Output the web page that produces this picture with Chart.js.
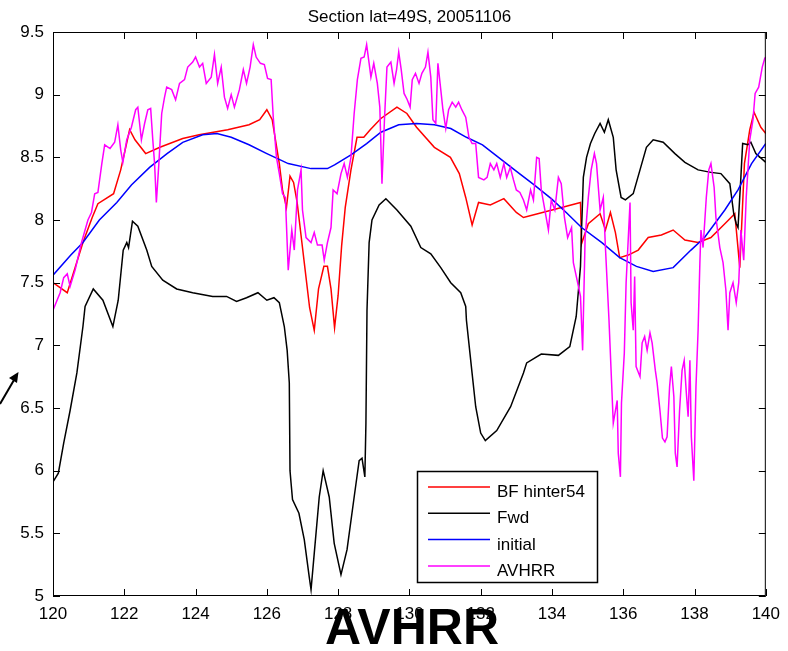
<!DOCTYPE html>
<html>
<head>
<meta charset="utf-8">
<title>Section lat=49S, 20051106</title>
<script src="https://cdn.jsdelivr.net/npm/chart.js@4.4.1/dist/chart.umd.min.js"></script>
<style>
  html, body { margin: 0; padding: 0; background: #fff; }
  canvas { display: block; }
</style>
</head>
<body>
<canvas id="sectionChart" width="788" height="651"></canvas>
<script>
// axis ticks
const xTicks = [120, 122, 124, 126, 128, 130, 132, 134, 136, 138, 140];
const yTicks = [5, 5.5, 6, 6.5, 7, 7.5, 8, 8.5, 9, 9.5];
const yTickLabels = ['5', '5.5', '6', '6.5', '7', '7.5', '8', '8.5', '9', '9.5'];

const seriesNames = ['BF hinter54', 'Fwd', 'initial', 'AVHRR'];

// BF hinter54 (red)
const bfX = [120, 120.4, 120.84, 121.1, 121.26, 121.7, 121.9, 122.15, 122.3, 122.6, 123.0, 123.64, 124.1, 124.9, 125.5, 125.8, 126.0, 126.15, 126.35, 126.44, 126.55, 126.65, 126.75, 126.85, 126.95, 127.05, 127.2, 127.33, 127.45, 127.6, 127.7, 127.8, 127.9, 128.0, 128.1, 128.2, 128.36, 128.53, 128.72, 128.9, 129.2, 129.65, 129.93, 130.2, 130.7, 131.15, 131.4, 131.58, 131.76, 131.94, 132.27, 132.65, 133.0, 133.2, 133.6, 134.27, 134.8, 134.83, 135.02, 135.35, 135.5, 135.64, 135.78, 135.9, 136.14, 136.42, 136.7, 137.07, 137.4, 137.73, 138.1, 138.46, 138.85, 139.13, 139.27, 139.4, 139.55, 139.67, 139.86, 140];
const bfY = [7.5, 7.42, 7.82, 8.02, 8.13, 8.21, 8.4, 8.72, 8.64, 8.53, 8.58, 8.65, 8.68, 8.72, 8.76, 8.8, 8.88, 8.8, 8.45, 8.24, 8.1, 8.35, 8.3, 8.14, 7.9, 7.66, 7.3, 7.12, 7.45, 7.63, 7.63, 7.45, 7.14, 7.4, 7.8, 8.1, 8.4, 8.66, 8.66, 8.72, 8.81, 8.9, 8.85, 8.74, 8.58, 8.5, 8.37, 8.18, 7.96, 8.14, 8.12, 8.17, 8.06, 8.02, 8.05, 8.1, 8.14, 7.81, 7.97, 8.05, 7.92, 8.06, 7.9, 7.7, 7.72, 7.76, 7.86, 7.88, 7.92, 7.84, 7.82, 7.86, 7.97, 8.05, 7.62, 8.45, 8.72, 8.86, 8.74, 8.69];

// Fwd (black)
const fwdX = [120, 120.15, 120.3, 120.48, 120.67, 120.84, 120.9, 121.13, 121.4, 121.68, 121.83, 121.97, 122.07, 122.12, 122.23, 122.38, 122.63, 122.77, 123.08, 123.47, 123.92, 124.48, 124.87, 125.15, 125.43, 125.75, 126.0, 126.2, 126.35, 126.49, 126.57, 126.63, 126.65, 126.68, 126.72, 126.9, 127.05, 127.19, 127.24, 127.33, 127.47, 127.58, 127.75, 127.89, 128.08, 128.25, 128.45, 128.59, 128.67, 128.75, 128.78, 128.81, 128.87, 128.95, 129.15, 129.34, 129.65, 130.04, 130.32, 130.6, 130.88, 131.16, 131.44, 131.58, 131.6, 131.75, 131.86, 132.0, 132.13, 132.45, 132.84, 133.2, 133.29, 133.7, 134.18, 134.5, 134.68, 134.8, 134.83, 134.88, 134.97, 135.08, 135.2, 135.35, 135.47, 135.58, 135.72, 135.8, 135.94, 136.06, 136.28, 136.47, 136.65, 136.84, 137.12, 137.45, 137.73, 138.1, 138.46, 138.74, 138.99, 139.1, 139.17, 139.22, 139.3, 139.35, 139.5, 139.58, 139.72, 140];
const fwdY = [5.91, 5.98, 6.22, 6.48, 6.78, 7.15, 7.31, 7.45, 7.36, 7.15, 7.36, 7.76, 7.82, 7.78, 7.99, 7.95, 7.76, 7.63, 7.52, 7.45, 7.42, 7.39, 7.39, 7.35, 7.38, 7.42, 7.36, 7.38, 7.34, 7.15, 6.96, 6.7, 6.0, 5.9, 5.77, 5.66, 5.45, 5.15, 5.05, 5.34, 5.79, 6.0, 5.79, 5.42, 5.17, 5.37, 5.79, 6.08, 6.1, 5.95, 6.38, 7.28, 7.82, 8.0, 8.12, 8.17, 8.08, 7.95, 7.78, 7.73, 7.62, 7.5, 7.42, 7.31, 7.2, 6.8, 6.51, 6.3, 6.24, 6.32, 6.51, 6.78, 6.86, 6.93, 6.92, 6.99, 7.23, 7.63, 7.92, 8.34, 8.5, 8.61, 8.69, 8.77, 8.7, 8.8, 8.66, 8.4, 8.18, 8.16, 8.21, 8.4, 8.58, 8.64, 8.62, 8.53, 8.46, 8.4, 8.38, 8.37, 8.29, 8.05, 7.97, 7.94, 8.34, 8.61, 8.6, 8.62, 8.53, 8.46];

// initial (blue)
const initX = [120, 120.5, 120.84, 121.3, 121.79, 122.2, 122.71, 123.2, 123.64, 124.2, 124.6, 125.0, 125.5, 126.0, 126.6, 127.24, 127.7, 127.9, 128.36, 128.8, 129.2, 129.7, 130.2, 130.7, 131.16, 131.6, 132.05, 132.5, 132.95, 133.5, 133.98, 134.4, 134.83, 135.4, 135.9, 136.37, 136.84, 137.4, 137.9, 138.28, 138.85, 139.22, 139.6, 140];
const initY = [7.56, 7.72, 7.82, 8.0, 8.14, 8.28, 8.42, 8.53, 8.62, 8.68, 8.69, 8.66, 8.6, 8.53, 8.45, 8.41, 8.41, 8.44, 8.52, 8.61, 8.7, 8.76, 8.77, 8.76, 8.73, 8.66, 8.6, 8.5, 8.4, 8.28, 8.17, 8.06, 7.94, 7.82, 7.7, 7.63, 7.59, 7.62, 7.76, 7.86, 8.08, 8.24, 8.45, 8.61];

// AVHRR (magenta)
const avX = [120.0, 120.2, 120.3, 120.4, 120.48, 120.62, 120.8, 120.98, 121.08, 121.17, 121.26, 121.37, 121.45, 121.6, 121.73, 121.82, 121.9, 121.96, 122.07, 122.2, 122.32, 122.38, 122.48, 122.57, 122.66, 122.74, 122.8, 122.85, 122.9, 122.97, 123.05, 123.13, 123.19, 123.33, 123.44, 123.55, 123.69, 123.78, 123.92, 124.0, 124.11, 124.2, 124.3, 124.44, 124.53, 124.62, 124.72, 124.81, 124.9, 125.0, 125.09, 125.23, 125.34, 125.43, 125.53, 125.62, 125.7, 125.82, 125.93, 126.02, 126.12, 126.18, 126.27, 126.35, 126.44, 126.52, 126.6, 126.7, 126.77, 126.86, 126.96, 127.0, 127.1, 127.24, 127.33, 127.42, 127.55, 127.61, 127.7, 127.8, 127.86, 127.97, 128.08, 128.17, 128.26, 128.36, 128.45, 128.54, 128.64, 128.73, 128.8, 128.87, 128.92, 129.0, 129.1, 129.17, 129.23, 129.3, 129.37, 129.48, 129.57, 129.64, 129.7, 129.77, 129.85, 129.94, 130.02, 130.08, 130.17, 130.27, 130.35, 130.45, 130.52, 130.6, 130.66, 130.74, 130.8, 130.88, 130.94, 131.02, 131.1, 131.2, 131.3, 131.38, 131.47, 131.58, 131.67, 131.76, 131.86, 131.94, 132.09, 132.18, 132.27, 132.37, 132.45, 132.55, 132.65, 132.73, 132.83, 132.92, 133.0, 133.1, 133.2, 133.29, 133.4, 133.48, 133.57, 133.64, 133.7, 133.8, 133.9, 133.98, 134.08, 134.18, 134.26, 134.35, 134.44, 134.55, 134.6, 134.69, 134.8, 134.86, 134.93, 135.02, 135.1, 135.19, 135.25, 135.35, 135.44, 135.5, 135.6, 135.72, 135.78, 135.83, 135.86, 135.92, 135.95, 136.03, 136.08, 136.19, 136.22, 136.28, 136.32, 136.36, 136.47, 136.53, 136.6, 136.67, 136.75, 136.81, 136.9, 136.95, 137.03, 137.1, 137.17, 137.23, 137.3, 137.35, 137.42, 137.46, 137.51, 137.58, 137.65, 137.71, 137.77, 137.82, 137.87, 137.91, 137.98, 138.04, 138.1, 138.15, 138.18, 138.24, 138.33, 138.4, 138.46, 138.55, 138.6, 138.71, 138.8, 138.88, 138.94, 138.99, 139.08, 139.17, 139.24, 139.3, 139.38, 139.45, 139.55, 139.64, 139.7, 139.8, 139.9, 139.97, 140];
const avY = [7.28, 7.42, 7.54, 7.57, 7.47, 7.6, 7.82, 8.0, 8.06, 8.21, 8.22, 8.45, 8.6, 8.57, 8.62, 8.76, 8.56, 8.46, 8.64, 8.74, 8.88, 8.9, 8.64, 8.77, 8.88, 8.89, 8.64, 8.45, 8.14, 8.45, 8.85, 8.98, 9.06, 9.04, 8.96, 9.09, 9.12, 9.22, 9.26, 9.3, 9.22, 9.25, 9.09, 9.14, 9.32, 9.09, 9.22, 8.98, 8.89, 9.0, 8.9, 9.04, 9.2, 9.09, 9.22, 9.4, 9.3, 9.25, 9.24, 9.13, 9.12, 8.82, 8.5, 8.37, 8.21, 8.18, 7.6, 7.92, 7.76, 8.24, 8.4, 8.08, 7.86, 7.82, 7.9, 7.8, 7.8, 7.68, 7.82, 7.94, 8.24, 8.21, 8.37, 8.45, 8.34, 8.5, 8.85, 9.12, 9.29, 9.3, 9.4, 9.25, 9.14, 9.25, 9.09, 8.9, 8.29, 8.8, 9.22, 9.26, 9.09, 9.2, 9.34, 9.2, 9.01, 8.96, 8.9, 9.12, 9.17, 9.09, 9.17, 9.22, 9.34, 9.14, 8.8, 8.77, 9.25, 9.04, 8.88, 8.73, 8.88, 8.94, 8.9, 8.94, 8.88, 8.82, 8.66, 8.61, 8.61, 8.34, 8.32, 8.34, 8.45, 8.4, 8.45, 8.34, 8.45, 8.34, 8.42, 8.32, 8.24, 8.22, 8.16, 8.08, 8.24, 8.16, 8.5, 8.49, 8.24, 8.08, 7.92, 8.16, 8.08, 8.34, 8.29, 8.02, 7.86, 7.94, 7.66, 7.54, 7.39, 6.96, 7.86, 8.18, 8.4, 8.53, 8.45, 8.08, 8.18, 7.78, 7.2, 6.38, 6.48, 6.56, 6.14, 5.95, 6.54, 6.94, 7.5, 8.14, 7.34, 7.12, 7.55, 6.83, 6.75, 7.02, 7.07, 6.96, 7.1, 7.02, 6.8, 6.7, 6.48, 6.26, 6.23, 6.27, 6.67, 6.83, 6.59, 6.14, 6.03, 6.48, 6.8, 6.88, 6.62, 6.43, 6.88, 6.27, 5.92, 6.67, 7.12, 7.66, 7.92, 7.78, 8.18, 8.4, 8.45, 8.26, 8.02, 7.78, 7.66, 7.44, 7.12, 7.42, 7.5, 7.34, 7.5, 7.92, 7.68, 8.18, 8.64, 8.8, 9.01, 9.06, 9.22, 9.29, 9.3];

const seriesColors = ['#ff0000', '#000000', '#0000ff', '#ff00ff'];

function toPoints(xs, ys) {
    return xs.map((x, i) => ({ x: x, y: ys[i] }));
}

const FONT = '"Liberation Sans", Arial, Helvetica, sans-serif';

// MATLAB style box, inward ticks, title, legend and the extra annotations
const matlabFrame = {
    id: 'matlabFrame',
    afterDraw(chart) {
        const ctx = chart.ctx;
        const area = chart.chartArea;
        const xs = chart.scales.x;
        const ys = chart.scales.y;
        const tick = 7;

        ctx.save();
        ctx.strokeStyle = '#000';
        ctx.lineWidth = 1;
        ctx.strokeRect(area.left + 0.5, area.top + 0.5, area.right - area.left - 1, area.bottom - area.top - 1);

        ctx.beginPath();
        xTicks.forEach(v => {
            const px = Math.round(xs.getPixelForValue(v)) + 0.5;
            ctx.moveTo(px, area.bottom); ctx.lineTo(px, area.bottom - tick);
            ctx.moveTo(px, area.top); ctx.lineTo(px, area.top + tick);
        });
        yTicks.forEach(v => {
            const py = Math.round(ys.getPixelForValue(v)) + 0.5;
            ctx.moveTo(area.left, py); ctx.lineTo(area.left + tick, py);
            ctx.moveTo(area.right, py); ctx.lineTo(area.right - tick, py);
        });
        ctx.stroke();

        // title
        ctx.fillStyle = '#000';
        ctx.font = '17px ' + FONT;
        ctx.textAlign = 'center';
        ctx.textBaseline = 'alphabetic';
        ctx.fillText('Section lat=49S, 20051106', (area.left + area.right) / 2, 22);

        // legend box
        const lx = 417, ly = 471, lw = 180, lh = 111;
        ctx.fillStyle = '#fff';
        ctx.fillRect(lx, ly, lw, lh);
        ctx.strokeStyle = '#000';
        ctx.lineWidth = 1.5;
        ctx.strokeRect(lx + 0.5, ly + 0.5, lw, lh);
        ctx.textAlign = 'left';
        chart.data.datasets.forEach((ds, i) => {
            const base = 497 + i * 26.3;
            ctx.strokeStyle = ds.borderColor;
            ctx.lineWidth = 1.5;
            ctx.beginPath();
            ctx.moveTo(428, base - 10);
            ctx.lineTo(490, base - 10);
            ctx.stroke();
            ctx.fillStyle = '#000';
            ctx.fillText(ds.label, 497, base);
        });

        // arrow on the left edge
        ctx.strokeStyle = '#000';
        ctx.fillStyle = '#000';
        ctx.lineWidth = 2;
        ctx.beginPath();
        ctx.moveTo(0, 404);
        ctx.lineTo(14, 380);
        ctx.stroke();
        ctx.beginPath();
        ctx.moveTo(18.5, 372);
        ctx.lineTo(9, 378);
        ctx.lineTo(17, 383);
        ctx.closePath();
        ctx.fill();

        // big caption over the x axis
        ctx.font = 'bold 50px ' + FONT;
        ctx.textAlign = 'center';
        ctx.fillText('AVHRR', 412, 644);
        ctx.restore();
    }
};

document.addEventListener('DOMContentLoaded', function () {
    const allX = [bfX, fwdX, initX, avX];
    const allY = [bfY, fwdY, initY, avY];

    const datasets = seriesNames.map((name, i) => ({
        label: name,
        data: toPoints(allX[i], allY[i]),
        borderColor: seriesColors[i],
        backgroundColor: seriesColors[i],
        borderWidth: 1.5,
        pointRadius: 0,
        tension: 0,
        fill: false,
        // later series drawn on top, as in the original plot
        order: seriesNames.length - i
    }));

    new Chart(document.getElementById('sectionChart'), {
        type: 'line',
        data: { datasets: datasets },
        options: {
            responsive: false,
            animation: false,
            devicePixelRatio: 1,
            layout: { padding: { top: 32, right: 20, left: 0, bottom: 0 } },
            scales: {
                x: {
                    type: 'linear',
                    min: 120,
                    max: 140,
                    afterBuildTicks: s => { s.ticks = xTicks.map(v => ({ value: v })); },
                    afterFit: s => { s.height = 55; },
                    ticks: {
                        color: '#000',
                        font: { size: 17, family: FONT },
                        padding: 8,
                        maxRotation: 0,
                        autoSkip: false,
                        callback: v => String(v)
                    },
                    grid: { display: false, drawTicks: false },
                    border: { display: false }
                },
                y: {
                    type: 'linear',
                    min: 5,
                    max: 9.5,
                    afterBuildTicks: s => { s.ticks = yTicks.map(v => ({ value: v })); },
                    afterFit: s => { s.width = 53; },
                    ticks: {
                        color: '#000',
                        font: { size: 17, family: FONT },
                        padding: 9,
                        autoSkip: false,
                        callback: v => yTickLabels[yTicks.indexOf(v)]
                    },
                    grid: { display: false, drawTicks: false },
                    border: { display: false }
                }
            },
            plugins: {
                legend: { display: false },
                title: { display: false },
                tooltip: { enabled: false }
            }
        },
        plugins: [matlabFrame]
    });
});
</script>
</body>
</html>
